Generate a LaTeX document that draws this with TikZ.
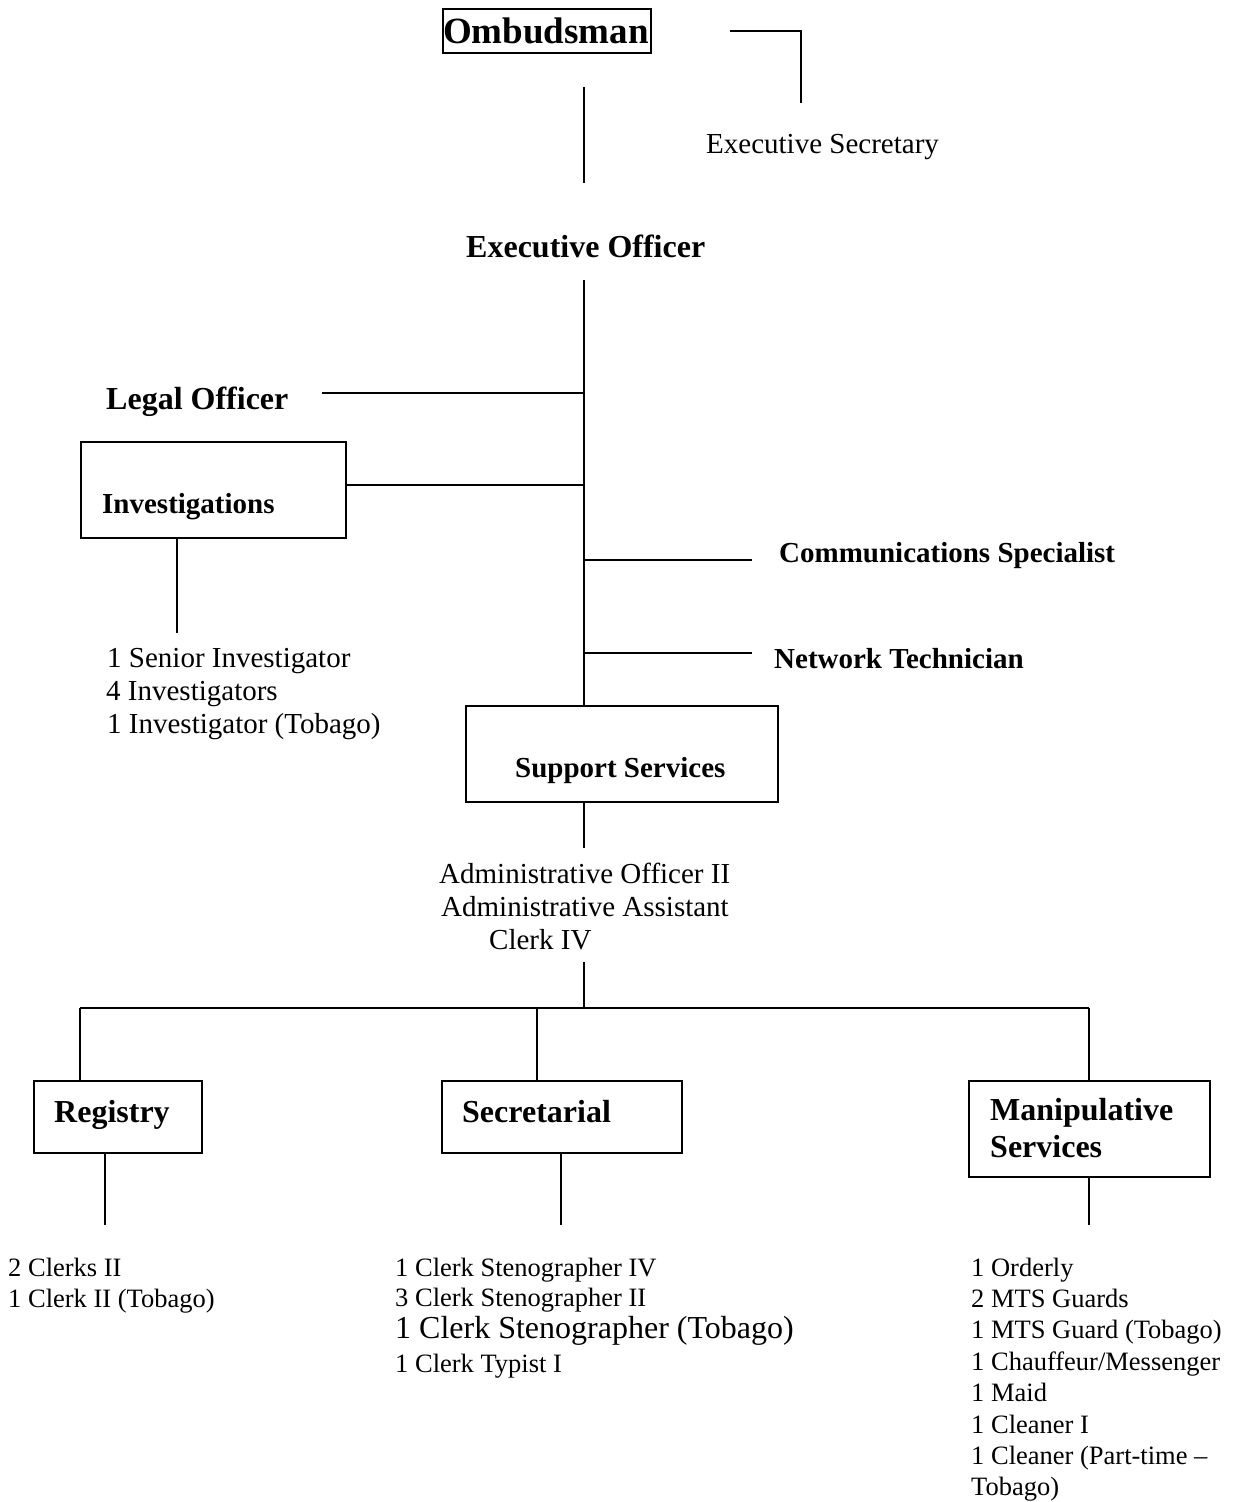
\documentclass[tikz,border=0pt]{standalone}
\usepackage{fontspec}
\setmainfont{Liberation Serif}
\begin{document}
\begin{tikzpicture}[x=1pt,y=-1pt,
  ln/.style={line width=1.8pt},
  boxnode/.style={draw,line width=1.8pt,inner sep=0pt,anchor=north west},
  tx/.style={inner sep=0pt,anchor=base west,font=\fontsize{29}{33}\selectfont},
  txs/.style={inner sep=0pt,anchor=base west,font=\fontsize{26.5}{31}\selectfont},
  txb/.style={inner sep=0pt,anchor=base west,font=\bfseries\fontsize{29}{33}\selectfont},
  txbb/.style={inner sep=0pt,anchor=base west,font=\bfseries\fontsize{32}{37}\selectfont}]
\useasboundingbox[fill=white] (0,0) rectangle (1236,1502);

% boxes
\node[boxnode,minimum width=208pt,minimum height=44pt] (omb) at (442,8) {};
\node[boxnode,minimum width=265pt,minimum height=96pt] (inv) at (80,441) {};
\node[boxnode,minimum width=312pt,minimum height=96pt] (ss) at (465,705) {};
\node[boxnode,minimum width=168pt,minimum height=72pt] (reg) at (33,1080) {};
\node[boxnode,minimum width=240pt,minimum height=72pt] (sec) at (441,1080) {};
\node[boxnode,minimum width=241pt,minimum height=96pt] (man) at (968,1080) {};

% texts
\node[inner sep=0pt,anchor=base west,font=\bfseries\fontsize{37}{42}\selectfont] (ombt) at (443,43) {Ombudsman};
\node[tx] (esec) at (706,153) {Executive Secretary};
\node[txbb] (eo) at (466,257) {Executive Officer};
\node[txbb] (lo) at (106,409) {Legal Officer};
\node[txb] (invt) at (102,513) {Investigations};
\node[txb] (cs) at (779,562) {Communications Specialist};
\node[txb] (nt) at (774,668) {Network Technician};
\node[tx] (i1) at (107,667) {1 Senior Investigator};
\node[tx] (i2) at (106,700) {4 Investigators};
\node[tx] (i3) at (107,733) {1 Investigator (Tobago)};
\node[txb] (sst) at (515,777) {Support Services};
\node[tx] (a1) at (439,883) {Administrative Officer II};
\node[tx] (a2) at (441,916) {Administrative Assistant};
\node[tx] (a3) at (489,949) {Clerk IV};
\node[txbb] (regt) at (54,1122) {Registry};
\node[txbb] (sect) at (462,1122) {Secretarial};
\node[txbb] (man1) at (990,1120) {Manipulative};
\node[txbb] (man2) at (990,1157) {Services};
\node[txs] (r1) at (8,1276) {2 Clerks II};
\node[txs] (r2) at (8,1307) {1 Clerk II (Tobago)};
\node[txs] (s1) at (395,1276) {1 Clerk Stenographer IV};
\node[txs] (s2) at (395,1306) {3 Clerk Stenographer II};
\node[inner sep=0pt,anchor=base west,font=\fontsize{32}{37}\selectfont] (s3) at (395,1338) {1 Clerk Stenographer (Tobago)};
\node[txs] (s4) at (395,1372) {1 Clerk Typist I};
\node[txs] (m1) at (971,1276) {1 Orderly};
\node[txs] (m2) at (971,1307.4) {2 MTS Guards};
\node[txs] (m3) at (971,1338.8) {1 MTS Guard (Tobago)};
\node[txs] (m4) at (971,1370.2) {1 Chauffeur/Messenger};
\node[txs] (m5) at (971,1401.6) {1 Maid};
\node[txs] (m6) at (971,1433) {1 Cleaner I};
\node[txs] (m7) at (971,1464.4) {1 Cleaner (Part-time –};
\node[txs] (m8) at (971,1495.8) {Tobago)};

% connector coordinates
\coordinate (oa) at (584,87);
\coordinate (ob) at (584,183);
\coordinate (sa) at (730,31);
\coordinate (sc) at (801,31);
\coordinate (sb) at (801,103);
\coordinate (ma) at (584,280);
\coordinate (la) at (322,393);
\coordinate (lb) at (584,393);
\coordinate (ia) at (345,485);
\coordinate (ib) at (584,485);
\coordinate (id1) at (177,537);
\coordinate (id2) at (177,633);
\coordinate (ca) at (584,560);
\coordinate (cb) at (752,560);
\coordinate (na) at (584,653);
\coordinate (nb) at (752,653);
\coordinate (sd1) at (584,801);
\coordinate (sd2) at (584,848);
\coordinate (ad1) at (584,962);
\coordinate (ad2) at (584,1008);
\coordinate (bl) at (80,1008);
\coordinate (bm) at (537,1008);
\coordinate (br) at (1089,1008);
\coordinate (rd1) at (105,1152);
\coordinate (rd2) at (105,1225);
\coordinate (ed1) at (561,1152);
\coordinate (ed2) at (561,1225);
\coordinate (md1) at (1089,1176);
\coordinate (md2) at (1089,1225);

% connectors
\draw[ln] (oa) -- (ob);
\draw[ln] (sa) -- (sc) -- (sb);
\draw[ln] (ma) -- (ma |- ss.north);
\draw[ln] (la) -- (lb);
\draw[ln] (ia) -- (ib);
\draw[ln] (id1) -- (id2);
\draw[ln] (ca) -- (cb);
\draw[ln] (na) -- (nb);
\draw[ln] (sd1) -- (sd2);
\draw[ln] (ad1) -- (ad2);
\draw[ln] (bl) -- (br);
\draw[ln] (bl) -- (bl |- reg.north);
\draw[ln] (bm) -- (bm |- sec.north);
\draw[ln] (br) -- (br |- man.north);
\draw[ln] (rd1) -- (rd2);
\draw[ln] (ed1) -- (ed2);
\draw[ln] (md1) -- (md2);
\end{tikzpicture}
\end{document}
